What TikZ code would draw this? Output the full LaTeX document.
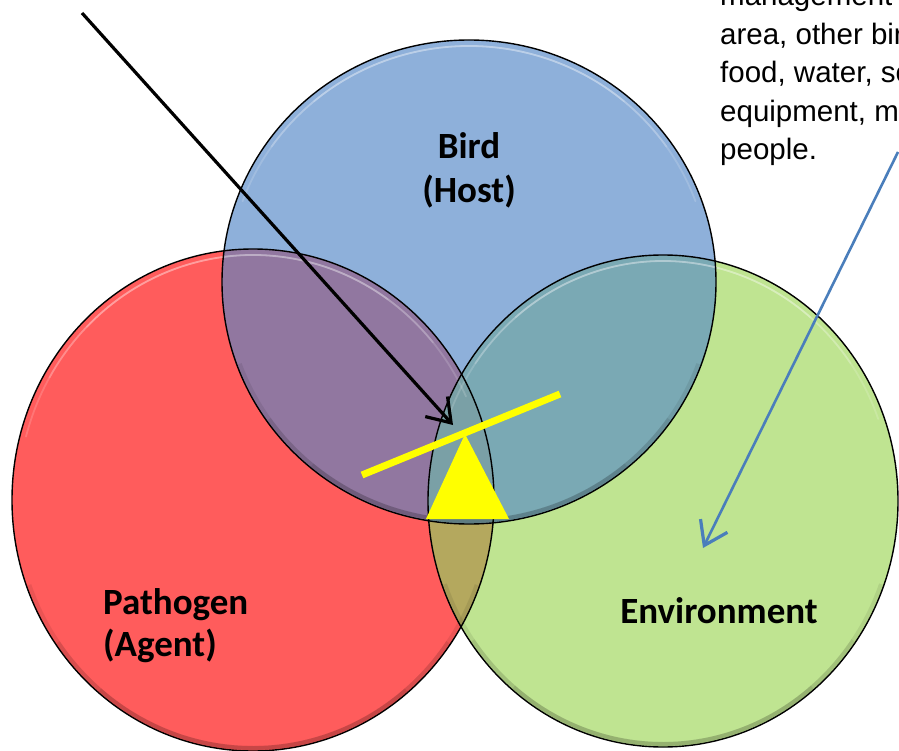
\documentclass[tikz,border=0pt]{standalone}
\usepackage{fontspec}
\setmainfont{Liberation Sans}
\newfontfamily\labelfont{Carlito}
\usetikzlibrary{arrows.meta}
\definecolor{redc}{RGB}{255,92,92}
\definecolor{bluec}{RGB}{142,176,218}
\definecolor{greenc}{RGB}{191,228,145}
\definecolor{purplec}{RGB}{145,119,160}
\definecolor{tealc}{RGB}{122,169,180}
\definecolor{olivec}{RGB}{180,168,94}
\definecolor{triplec}{RGB}{122,160,166}
\definecolor{arrowblue}{RGB}{74,126,187}
\definecolor{seesaw}{RGB}{255,255,0}
\tikzset{
  lbl/.style={font=\labelfont\bfseries\fontsize{37}{44}\selectfont, inner sep=0pt},
  note/.style={font=\fontsize{29.5}{38}\selectfont, inner sep=0pt, anchor=base west},
  rimline/.style={draw=black, line width=1.4pt},
  hilite/.style={draw=white, draw opacity=0.16, line width=1.8pt, line cap=round},
  shade/.style={draw=black, draw opacity=0.08, line width=4pt},
  arrowline/.style={line width=3.2pt, -{Straight Barb[length=22pt,width=30pt,line width=3.2pt]}},
}
\def\redE{(253pt,-500pt) ellipse [x radius=241pt, y radius=251pt]}
\def\blueE{(469pt,-282pt) ellipse [x radius=247pt, y radius=242pt]}
\def\greenE{(663pt,-501pt) ellipse [x radius=235pt, y radius=246pt]}
% fading rim arcs: #1 style, #2 centre, #3 rx, #4 ry, #5 mid angle
\newcommand\rimarcs[5]{%
  \foreach \h in {70,55,40}{%
    \draw[#1] #2 ++({#5-\h}:#3 and #4) arc[start angle={#5-\h}, end angle={#5+\h}, x radius=#3, y radius=#4];
  }}
\begin{document}
\begin{tikzpicture}[x=1pt,y=-1pt]
\useasboundingbox (0,0) rectangle (899,751);
\clip (0,0) rectangle (899,751);
\fill[white] (0,0) rectangle (899,751);
% circle fills
\fill[redc] \redE;
\fill[bluec] \blueE;
\fill[greenc] \greenE;
\begin{scope}\clip \redE; \fill[purplec] \blueE;\end{scope}
\begin{scope}\clip \blueE; \fill[tealc] \greenE;\end{scope}
\begin{scope}\clip \redE; \fill[olivec] \greenE;\end{scope}
\begin{scope}\clip \redE; \clip \blueE; \fill[triplec] \greenE;\end{scope}
% glossy rims
\rimarcs{hilite}{(253pt,-500pt)}{235pt}{245pt}{95}
\rimarcs{hilite}{(469pt,-282pt)}{241pt}{236pt}{90}
\rimarcs{hilite}{(663pt,-501pt)}{229pt}{240pt}{90}
\rimarcs{shade}{(253pt,-500pt)}{238pt}{248pt}{270}
\rimarcs{shade}{(469pt,-282pt)}{244pt}{239pt}{270}
\rimarcs{shade}{(663pt,-501pt)}{232pt}{243pt}{270}
% outlines
\draw[rimline] \redE;
\draw[rimline] \blueE;
\draw[rimline] \greenE;
% labels
\node[lbl, anchor=base] (bird) at (469,159) {Bird};
\node[lbl, anchor=base] (host) at (469,203) {(Host)};
\node[lbl, anchor=base west] (pathogen) at (103,614) {Pathogen};
\node[lbl, anchor=base west] (agent) at (103,656) {(Agent)};
\node[lbl, anchor=base] (env) at (719,623) {Environment};
% note text (cut by the picture edge, as in the reference)
\node[note] (n1) at (720,6) {management};
\node[note] (n2) at (720,44.5) {area, other bir};
\node[note] (n3) at (720,83) {food, water, so};
\node[note] (n4) at (720,121.5) {equipment, m};
\node[note] (n5) at (720,160) {people.};
% seesaw
\coordinate (apex) at (465,434);
\coordinate (bl) at (426,519);
\coordinate (br) at (509,519);
\fill[seesaw] (apex) -- (bl) -- (br) -- cycle;
\coordinate (s1) at (362,475);
\coordinate (s2) at (560,394);
\draw[seesaw, line width=7pt] (s1) -- (s2);
% arrows
\coordinate (bstart) at (82,13);
\coordinate (btip) at (453,425);
\draw[arrowline] (bstart) -- (btip);
\coordinate (ustart) at (898,152);
\coordinate (utip) at (703,548);
\draw[arrowline, arrowblue, line width=2.6pt] (ustart) -- (utip);
\end{tikzpicture}
\end{document}
